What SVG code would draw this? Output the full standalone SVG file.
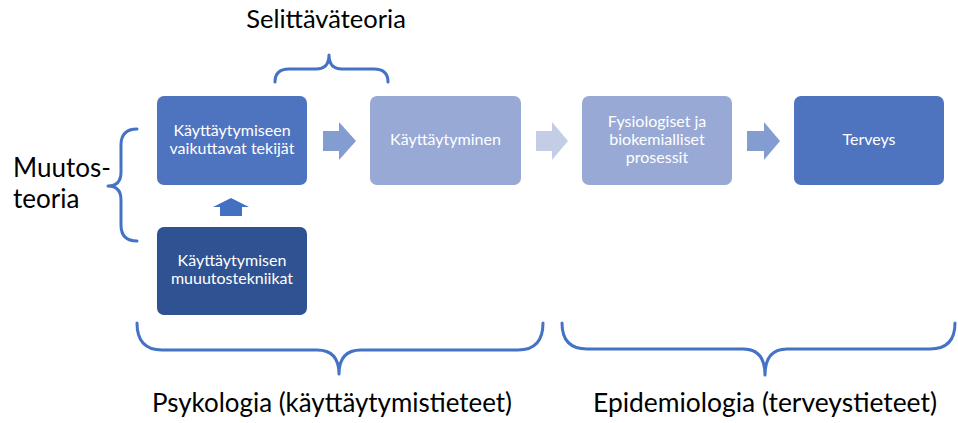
<svg xmlns="http://www.w3.org/2000/svg" width="958" height="423" viewBox="0 0 958 423">
<style>
.box-text{font-family:Lato,"Liberation Sans",sans-serif;font-size:16px;fill:#ffffff;text-anchor:middle}
.label{font-family:Lato,"Liberation Sans",sans-serif;fill:#000000}
.brace{fill:none;stroke:#4472C4;stroke-width:3;stroke-linecap:round;stroke-linejoin:round}
</style>
<rect width="958" height="423" fill="#ffffff"/>
<g id="node-tekijat">
<rect x="157" y="96" width="150" height="89" rx="7" fill="#4F74BF"/>
<text class="box-text" x="232" y="136">Käyttäytymiseen</text>
<text class="box-text" x="232" y="154">vaikuttavat tekijät</text>
</g>
<g id="node-muutostekniikat">
<rect x="157" y="227" width="150" height="88" rx="7" fill="#2F5292"/>
<text class="box-text" x="232" y="266">Käyttäytymisen</text>
<text class="box-text" x="232" y="284">muuutostekniikat</text>
</g>
<g id="node-kayttaytyminen">
<rect x="370" y="96" width="151" height="89" rx="7" fill="#98A9D5"/>
<text class="box-text" x="445.5" y="145">Käyttäytyminen</text>
</g>
<g id="node-fysiologiset">
<rect x="582" y="96" width="150" height="89" rx="7" fill="#98A9D5"/>
<text class="box-text" x="657" y="127">Fysiologiset ja</text>
<text class="box-text" x="657" y="145">biokemialliset</text>
<text class="box-text" x="657" y="163">prosessit</text>
</g>
<g id="node-terveys">
<rect x="794" y="96" width="150" height="89" rx="7" fill="#4F74BF"/>
<text class="box-text" x="869" y="145">Terveys</text>
</g>
<g id="connectors">
<polygon points="323,131 339,131 339,122 356,141 339,160 339,151 323,151" fill="#849DD0"/>
<polygon points="536,131 552,131 552,122 568,141 552,160 552,151 536,151" fill="#C3CDE6"/>
<polygon points="747,131 764,131 764,122 780,141 764,160 764,151 747,151" fill="#849DD0"/>
<polygon points="220,216 220,207 213,207 231,198 249,207 242,207 242,216" fill="#4370C0"/>
</g>
<g id="braces">
<path class="brace" d="M275,82 Q275,69 289,69 L316,69 Q329,69 329,55 Q329,69 342,69 L374,69 Q388,69 388,82"/>
<path class="brace" d="M137,129 Q121,129 121,145 L121,172 Q121,186 108,186 Q121,186 121,200 L121,225 Q121,241 137,241"/>
<path class="brace" d="M137,323 Q137,350 162,350 L317,350 Q339,350 339,374 Q339,350 361,350 L518,350 Q543,350 543,323"/>
<path class="brace" d="M562,323 Q562,349 587,349 L743,349 Q765,349 765,375 Q765,349 787,349 L930,349 Q955,349 955,323"/>
</g>
<g id="labels">
<text class="label" x="326" y="28" font-size="25.5" text-anchor="middle">Selittäväteoria</text>
<text class="label" x="13" y="177" font-size="26">Muutos-</text>
<text class="label" x="13" y="208" font-size="26">teoria</text>
<text class="label" x="332" y="412" font-size="26.5" text-anchor="middle" textLength="360" lengthAdjust="spacingAndGlyphs">Psykologia (käyttäytymistieteet)</text>
<text class="label" x="765" y="412" font-size="26.5" text-anchor="middle" textLength="344" lengthAdjust="spacingAndGlyphs">Epidemiologia (terveystieteet)</text>
</g>
</svg>
